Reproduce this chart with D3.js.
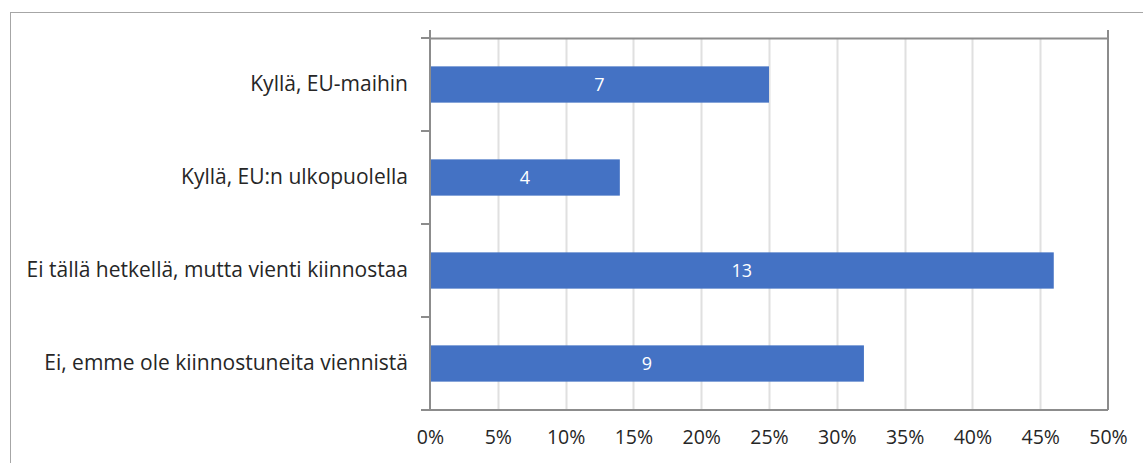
<!DOCTYPE html>
<html>
<head>
<meta charset="utf-8">
<script src="https://cdn.jsdelivr.net/npm/d3@7"></script>
<style>
  body { margin: 0; background: #fff; }
  svg text { font-family: "Open Sans", sans-serif; }
</style>
</head>
<body>
<svg id="chart"></svg>
<script>
// data
var categories = [
  'Kyllä, EU-maihin',
  'Kyllä, EU:n ulkopuolella',
  'Ei tällä hetkellä, mutta vienti kiinnostaa',
  'Ei, emme ole kiinnostuneita viennistä'
];
var percents = [25, 14, 46, 32];
var counts = [7, 4, 13, 9];
var xTicks = [0, 5, 10, 15, 20, 25, 30, 35, 40, 45, 50];

var canvasWidth = 1143;
var canvasHeight = 463;
var margin = { top: 38, right: 35, bottom: 53, left: 430 };
var width = canvasWidth - margin.left - margin.right;
var height = canvasHeight - margin.top - margin.bottom;

var svg = d3.select('#chart')
  .attr('width', canvasWidth)
  .attr('height', canvasHeight);

// outer chart frame
svg.append('rect')
  .attr('x', 10.5)
  .attr('y', 12.5)
  .attr('width', canvasWidth)
  .attr('height', canvasHeight)
  .attr('fill', 'none')
  .attr('stroke', '#a6a6a6');

var g = svg.append('g')
  .attr('transform', 'translate(' + margin.left + ',' + margin.top + ')');

var xScale = d3.scaleLinear()
  .domain([0, 50])
  .range([0, width]);

var yScale = d3.scaleBand()
  .domain(categories)
  .range([0, height])
  .paddingInner(0.61)
  .paddingOuter(0.305);

// gridlines
g.selectAll('.grid')
  .data(xTicks.slice(1, -1))
  .enter()
  .append('line')
  .attr('x1', function(d) { return Math.round(xScale(d)) + 0.5; })
  .attr('x2', function(d) { return Math.round(xScale(d)) + 0.5; })
  .attr('y1', 0)
  .attr('y2', height)
  .attr('stroke', '#e0e0e0')
  .attr('stroke-width', 2);

// bars
g.selectAll('.bar')
  .data(categories)
  .enter()
  .append('rect')
  .attr('x', 0)
  .attr('y', function(d) { return yScale(d); })
  .attr('width', function(d, i) { return xScale(percents[i]); })
  .attr('height', yScale.bandwidth())
  .attr('fill', '#4472c4');

// value labels
g.selectAll('.val')
  .data(categories)
  .enter()
  .append('text')
  .attr('x', function(d, i) { return xScale(percents[i]) / 2; })
  .attr('y', function(d) { return yScale(d) + yScale.bandwidth() / 2; })
  .attr('dy', '0.35em')
  .attr('text-anchor', 'middle')
  .attr('fill', '#ffffff')
  .style('font-size', '18px')
  .text(function(d, i) { return counts[i]; });

// plot border: top and right
g.append('line')
  .attr('x1', 0).attr('x2', width)
  .attr('y1', 0.5).attr('y2', 0.5)
  .attr('stroke', '#8c8c8c').attr('stroke-width', 2);
g.append('line')
  .attr('x1', width).attr('x2', width)
  .attr('y1', -8).attr('y2', height)
  .attr('stroke', '#8c8c8c').attr('stroke-width', 2);

// x axis
var xAxis = g.append('g')
  .attr('class', 'x axis')
  .attr('transform', 'translate(0,' + height + ')')
  .call(d3.axisBottom(xScale)
    .tickValues(xTicks)
    .tickSize(0)
    .tickPadding(20)
    .tickFormat(function(d) { return d + '%'; }));
xAxis.select('.domain').attr('stroke', '#8c8c8c').attr('stroke-width', 2)
  .attr('d', 'M-9,0H' + width);
xAxis.selectAll('text')
  .attr('fill', '#262626')
  .style('font-size', '19.5px');

// y axis
var yAxis = g.append('g')
  .attr('class', 'y axis')
  .call(d3.axisLeft(yScale).tickSize(0).tickPadding(22));
yAxis.select('.domain').attr('stroke', '#8c8c8c').attr('stroke-width', 2)
  .attr('d', 'M0,-8V' + height);
yAxis.selectAll('text')
  .attr('fill', '#262626')
  .style('font-size', '21px');

// tick marks between categories
var bounds = d3.range(categories.length + 1).map(function(i) { return i * yScale.step(); });
g.selectAll('.ytick')
  .data(bounds)
  .enter()
  .append('line')
  .attr('x1', -9).attr('x2', 0)
  .attr('y1', function(d) { return d; })
  .attr('y2', function(d) { return d; })
  .attr('stroke', '#8c8c8c')
  .attr('stroke-width', 2);
</script>
</body>
</html>
